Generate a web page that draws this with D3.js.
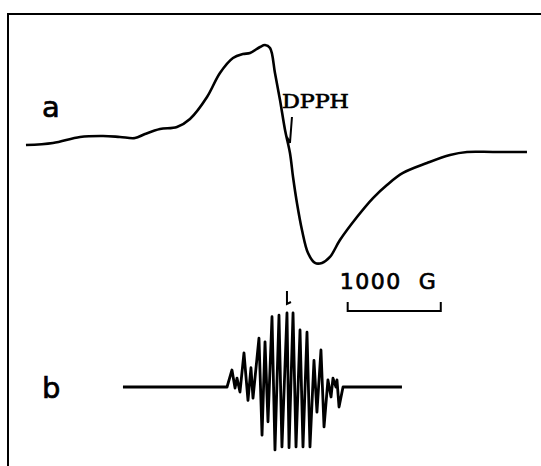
<!DOCTYPE html>
<html>
<head>
<meta charset="utf-8">
<script src="https://cdn.jsdelivr.net/npm/d3@7"></script>
<style>
  body { margin: 0; background: #fff; }
  svg { display: block; }
</style>
</head>
<body>
<div id="chart"></div>
<script>
// spectrum a : broad line (field in G, signal in arb. units)
let fieldA  = [564, 854, 1145, 1392, 1574, 1735, 1843, 2004, 2186, 2326, 2509, 2648, 2788, 2895, 2971, 3078, 3132, 3186, 3239, 3293, 3347, 3400, 3433, 3475, 3529, 3594, 3669, 3744, 3830, 3937, 4120, 4292, 4442, 4614, 4872, 5119, 5302, 5581, 5946];
let signalA = [0.025, 0.042, 0.092, 0.100, 0.092, 0.083, 0.117, 0.158, 0.175, 0.242, 0.425, 0.625, 0.75, 0.783, 0.792, 0.842, 0.858, 0.833, 0.625, 0.40, 0.15, -0.042, -0.242, -0.458, -0.683, -0.875, -0.958, -0.958, -0.908, -0.767, -0.575, -0.417, -0.308, -0.208, -0.125, -0.058, -0.033, -0.033, -0.033];

// spectrum b : resolved hyperfine lines
let fieldB  = [1606, 2724, 2777, 2810, 2831, 2863, 2906, 2949, 2981, 3003, 3067, 3100, 3132, 3164, 3207, 3239, 3282, 3314, 3368, 3390, 3433, 3465, 3508, 3540, 3583, 3615, 3658, 3690, 3733, 3766, 3808, 3841, 3862, 3894, 3905, 3927, 3970, 4603];
let signalB = [0, 0, 0.23, -0.014, 0.12, -0.068, 0.46, -0.18, 0.26, -0.15, 0.66, -0.65, 0.61, -0.47, 0.95, -0.85, 0.97, -0.81, 1.0, -0.82, 1.0, -0.81, 0.77, -0.81, 0.74, -0.81, 0.36, -0.34, 0.5, -0.54, 0.095, -0.135, 0.12, 0, 0.095, -0.27, 0, 0];

let dpphField = 3400;
let scaleBar = [4020, 5020];   // 1000 G
let labels = ["a", "b"];

let width = 541;
let height = 466;

let x = d3.scaleLinear().domain([500, 6000]).range([20, 532]);
let yA = d3.scaleLinear().domain([-1, 1]).range([268, 28]);
let yB = d3.scaleLinear().domain([-1, 1]).range([461, 313]);

let svg = d3.select("#chart").append("svg")
  .attr("width", width)
  .attr("height", height);

// frame (only top and left edges show)
svg.append("path")
  .attr("d", "M8," + height + "V14H" + width)
  .attr("fill", "none")
  .attr("stroke", "#000")
  .attr("stroke-width", 2);

let dataA = fieldA.map((f, i) => [f, signalA[i]]);
let dataB = fieldB.map((f, i) => [f, signalB[i]]);

let lineA = d3.line()
  .x(d => x(d[0]))
  .y(d => yA(d[1]))
  .curve(d3.curveCatmullRom.alpha(0.5));

let lineB = d3.line()
  .x(d => x(d[0]))
  .y(d => yB(d[1]))
  .curve(d3.curveLinear);

svg.append("path")
  .datum(dataA)
  .attr("d", lineA)
  .attr("fill", "none")
  .attr("stroke", "#000")
  .attr("stroke-width", 2.6);

svg.append("path")
  .datum(dataB)
  .attr("d", lineB)
  .attr("fill", "none")
  .attr("stroke", "#000")
  .attr("stroke-width", 2.8)
  .attr("stroke-linejoin", "round");

// text style: dark, slightly heavy like the scanned figure
function label(sel) {
  return sel.attr("fill", "#000")
    .attr("stroke", "#000")
    .attr("stroke-width", 0.7);
}

// spectrum labels
label(svg.append("text"))
  .attr("x", 42).attr("y", 117)
  .style("font-family", "DejaVu Sans")
  .style("font-size", "29px")
  .text(labels[0]);

label(svg.append("text"))
  .attr("x", 42).attr("y", 398)
  .style("font-family", "DejaVu Sans")
  .style("font-size", "29px")
  .text(labels[1]);

// DPPH marker
let xd = x(dpphField);
label(svg.append("text"))
  .attr("x", xd - 8).attr("y", 108)
  .attr("textLength", 67)
  .attr("lengthAdjust", "spacingAndGlyphs")
  .style("font-family", "DejaVu Serif")
  .style("font-size", "19px")
  .text("DPPH");

svg.append("path")
  .attr("d", `M${xd + 2},117L${xd},143M${xd},143L${xd - 3},137`)
  .attr("fill", "none")
  .attr("stroke", "#000")
  .attr("stroke-width", 2);

svg.append("path")
  .attr("d", `M${xd - 3},291L${xd - 3},304L${xd + 1},302`)
  .attr("fill", "none")
  .attr("stroke", "#000")
  .attr("stroke-width", 2);

// 1000 G scale bar
let sb = scaleBar.map(x);
svg.append("path")
  .attr("d", `M${sb[0]},302V311H${sb[1]}V302`)
  .attr("fill", "none")
  .attr("stroke", "#000")
  .attr("stroke-width", 2);

label(svg.append("text"))
  .attr("x", sb[0] - 8).attr("y", 289)
  .style("font-family", "DejaVu Sans")
  .style("font-size", "22px")
  .style("letter-spacing", "1.5px")
  .text("1000");

label(svg.append("text"))
  .attr("x", sb[1] - 22).attr("y", 289)
  .style("font-family", "DejaVu Sans")
  .style("font-size", "22px")
  .text("G");
</script>
</body>
</html>
